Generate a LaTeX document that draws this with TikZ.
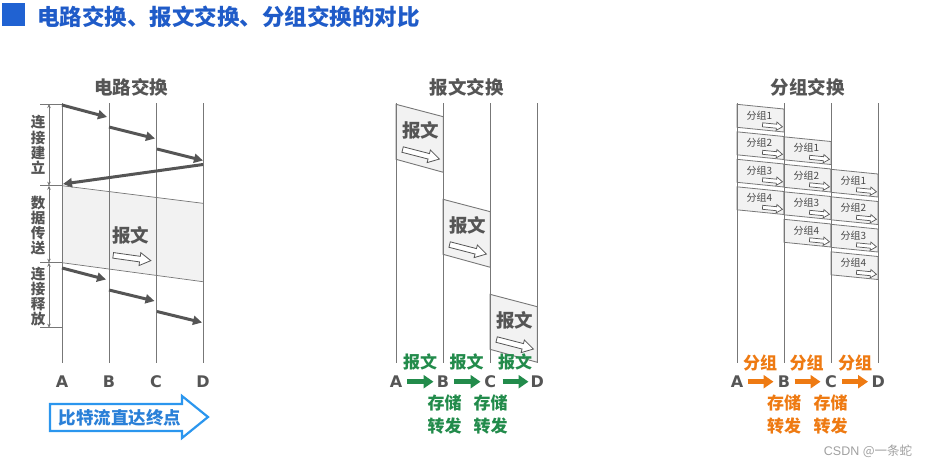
\documentclass[tikz,border=0pt]{standalone}
\usepackage{fontspec}
\usetikzlibrary{arrows.meta}
\newfontfamily\cjk{Noto Sans CJK SC}
\newfontfamily\latf{DejaVu Sans}[UprightFont={* Bold}]
\newfontfamily\wmfont{Liberation Sans}
\definecolor{titleblue}{HTML}{1F5BC8}
\definecolor{sqblue}{HTML}{2062D2}
\definecolor{dgray}{HTML}{555555}
\definecolor{lgray}{HTML}{777777}
\definecolor{boxfill}{HTML}{F2F2F2}
\definecolor{sgreen}{HTML}{228B4B}
\definecolor{sorange}{HTML}{EE7A12}
\definecolor{abblue}{HTML}{2B96EE}
\definecolor{abtext}{HTML}{2A80D8}
\definecolor{wm}{HTML}{A0A0A0}
\tikzset{
 vline/.style={draw=lgray, line width=1pt},
 sig/.style={draw=dgray, line width=3pt, -{Triangle[length=9pt,width=9pt]}},
 brk/.style={draw=lgray, line width=0.7pt},
 brkarrow/.style={draw=lgray, line width=0.7pt, {Stealth[length=4pt,width=3.5pt]}-{Stealth[length=4pt,width=3.5pt]}},
 msgbox/.style={draw=lgray, line width=0.9pt, fill=boxfill},
 pkt/.style={draw=lgray, line width=0.8pt, fill=boxfill},
 sectitle/.style={font=\cjk\bfseries\fontsize{18.5}{20}\selectfont, text=dgray, inner sep=0},
 boxtext/.style={font=\cjk\bfseries\fontsize{18.5}{20}\selectfont, text=dgray, inner sep=0},
 vlabel/.style={font=\cjk\bfseries\fontsize{14.5}{15.2}\selectfont, text=dgray, inner sep=0, align=center},
 letter/.style={font=\latf\fontsize{16}{18}\selectfont, text=dgray, inner sep=0},
 glabel/.style={font=\cjk\bfseries\fontsize{17}{18}\selectfont, text=sgreen, inner sep=0},
 olabel/.style={font=\cjk\bfseries\fontsize{17}{18}\selectfont, text=sorange, inner sep=0},
 garrow/.style={draw=sgreen, line width=5pt, -{Triangle[length=10pt,width=13pt]}},
 oarrow/.style={draw=sorange, line width=5pt, -{Triangle[length=10pt,width=13pt]}},
 pkttext/.style={font=\cjk\fontsize{10}{11}\selectfont, text=dgray!85!black, inner sep=0},
 bigarrow/.pic={\draw[draw=dgray, line width=0.8pt, fill=white] (-19,-2.8) -- (8,-2.8) -- (8,-6.5) -- (19,0) -- (8,6.5) -- (8,2.8) -- (-19,2.8) -- cycle;},
 smallarrow/.pic={\draw[draw=dgray, line width=0.7pt, fill=white] (-10,-2) -- (4,-2) -- (4,-4.2) -- (10,0) -- (4,4.2) -- (4,2) -- (-10,2) -- cycle;}
}
\begin{document}
\begin{tikzpicture}[x=1pt,y=-1pt]
\useasboundingbox (0,0) rectangle (934,469);
% ---------- title ----------
\fill[sqblue] (2,3) rectangle (25,26);
\node[anchor=west, inner sep=0, font=\cjk\bfseries\fontsize{22.5}{24}\selectfont, text=titleblue] (title) at (37,16.5) {电路交换、报文交换、分组交换的对比};

% ---------- circuit switching ----------
\node[sectitle] (t1) at (131,87.5) {电路交换};
\fill[boxfill] (62,185.7) -- (203,203.3) -- (203,281.7) -- (62,262.7) -- cycle;
\draw[brk] (62,185.7) -- (203,203.3);
\draw[brk] (62,262.7) -- (203,281.7);
\foreach \x/\n in {62/A,109/B,156/C,203/D}{
  \draw[vline] (\x,103) -- (\x,363);
  \node[letter] (c\n) at (\x,381.7) {\n};
}
% brackets
\foreach \y in {104,185.7,262.7,327.7} \draw[brk] (40,\y) -- (62,\y);
\draw[brkarrow] (49,104) -- (49,185.7);
\draw[brkarrow] (49,185.7) -- (49,262.7);
\draw[brkarrow] (49,262.7) -- (49,327.7);
\node[vlabel] (l1) at (38,145) {连\\接\\建\\立};
\node[vlabel] (l2) at (38,225.5) {数\\据\\传\\送};
\node[vlabel] (l3) at (38,296.5) {连\\接\\释\\放};
% signalling arrows
\coordinate (s1a) at (62,105);   \coordinate (s1b) at (107,117);
\coordinate (s2a) at (109,127);  \coordinate (s2b) at (155,138.5);
\coordinate (s3a) at (157,149);  \coordinate (s3b) at (203,160.5);
\coordinate (s4a) at (203,164.5);\coordinate (s4b) at (63,184);
\coordinate (s5a) at (62,268);   \coordinate (s5b) at (106,279.5);
\coordinate (s6a) at (109,290);  \coordinate (s6b) at (154.5,301);
\coordinate (s7a) at (157,311.5);\coordinate (s7b) at (202,322.5);
\foreach \i in {1,...,7} \draw[sig] (s\i a) -- (s\i b);
\node[boxtext] (cmsg) at (130.5,235) {报文};
\pic[rotate=-8] at (132,258) {bigarrow};
% bit stream arrow
\draw[draw=abblue, line width=2.2pt, fill=white, line join=miter] (50,404) -- (182,404) -- (182,396) -- (208,417) -- (182,438) -- (182,431) -- (50,431) -- cycle;
\node[inner sep=0, font=\cjk\bfseries\fontsize{17.5}{18}\selectfont, text=abtext] (bits) at (120,417.5) {比特流直达终点};

% ---------- message switching ----------
\node[sectitle] (t2) at (466.7,87.3) {报文交换};
\foreach \i in {0,1,2}{
  \pgfmathsetmacro\bx{396+47*\i}
  \pgfmathsetmacro\by{104.3+95*\i}
  \draw[msgbox] (\bx,\by) -- ++(47.3,12.4) -- ++(0,55.6) -- ++(-47.3,-13) -- cycle;
  \node[boxtext] (m\i) at (\bx+24.7,\by+26.5) {报文};
  \pic[rotate=-14.5] at (\bx+25,\by+50) {bigarrow};
}
\foreach \x/\n in {396/A,443/B,490.3/C,537.3/D}{
  \draw[vline] (\x,103) -- (\x,363);
  \node[letter] (m\n) at (\x,381.7) {\n};
}
\node[glabel] (mg1) at (420,362) {报文};
\node[glabel] (mg2) at (466.7,362) {报文};
\node[glabel] (mg3) at (515,362) {报文};
\draw[garrow] (407,381.7) -- (433.5,381.7);
\draw[garrow] (454,381.7) -- (480.5,381.7);
\draw[garrow] (502.5,381.7) -- (528.5,381.7);
\node[glabel] (ms1) at (444.5,403.3) {存储};
\node[glabel] (ms2) at (490.5,403.3) {存储};
\node[glabel] (mf1) at (444.5,426) {转发};
\node[glabel] (mf2) at (490.5,426) {转发};

% ---------- packet switching ----------
\node[sectitle] (t3) at (807.5,87.3) {分组交换};
\foreach \j in {0,1,2}{
  \foreach \k in {0,1,2,3}{
    \pgfmathsetmacro\px{737+47*\j}
    \pgfmathsetmacro\py{104.3+27.5*\k+32.5*\j}
    \pgfmathtruncatemacro\n{\k+1}
    \draw[pkt] (\px,\py) -- ++(47,4.7) -- ++(0,23) -- ++(-47,-4.7) -- cycle;
    \node[pkttext] (p\j\k) at (\px+22.5,\py+11) {分组\n};
    \pic[rotate=-5.7] at (\px+35.5,\py+21.5) {smallarrow};
  }
}
\foreach \x/\n in {737/A,784/B,831/C,878.3/D}{
  \draw[vline] (\x,103) -- (\x,363);
  \node[letter] (p\n) at (\x,381.7) {\n};
}
\node[olabel] (po1) at (760,362.7) {分组};
\node[olabel] (po2) at (806.7,362.7) {分组};
\node[olabel] (po3) at (855,362.7) {分组};
\draw[oarrow] (747.5,381.7) -- (773.5,381.7);
\draw[oarrow] (794.5,381.7) -- (820.5,381.7);
\draw[oarrow] (842,381.7) -- (868,381.7);
\node[olabel] (ps1) at (784,403.3) {存储};
\node[olabel] (ps2) at (830.5,403.3) {存储};
\node[olabel] (pf1) at (784,426) {转发};
\node[olabel] (pf2) at (830.5,426) {转发};

% watermark
\node[inner sep=0, font=\fontsize{12.5}{13}\selectfont, text=wm] (wmk) at (868,451) {\wmfont CSDN \cjk@一条蛇};
\end{tikzpicture}
\end{document}
